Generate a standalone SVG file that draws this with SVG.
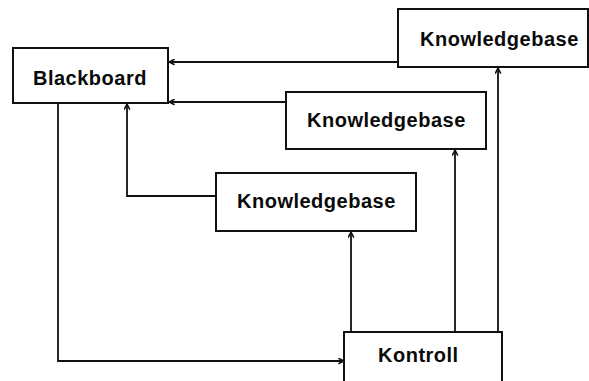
<svg xmlns="http://www.w3.org/2000/svg" width="589" height="381" viewBox="0 0 589 381">
  <style>
    .box { fill: #ffffff; stroke: #111111; stroke-width: 2; }
    .lbl { font-family: "Liberation Sans", Arial, sans-serif; font-weight: bold; font-size: 20px; fill: #0a0a0a; letter-spacing: 0.5px; }
    .conn { fill: none; stroke: #111111; stroke-width: 1.8; marker-end: url(#arrow); }
  </style>
  <defs>
    <marker id="arrow" viewBox="0 0 10 10" refX="9" refY="5" markerWidth="7" markerHeight="7" markerUnits="userSpaceOnUse" orient="auto">
      <path d="M1,1 L9,5 L1,9" fill="none" stroke="#111111" stroke-width="2.2"/>
    </marker>
  </defs>
  <rect width="589" height="381" fill="#ffffff"/>

  <g id="connectors">
    <path class="conn" d="M398,62 H169"/>
    <path class="conn" d="M286,102 H169"/>
    <path class="conn" d="M216,196 H127 V104"/>
    <path class="conn" d="M58,103 V361 H344"/>
    <path class="conn" d="M351,332 V232"/>
    <path class="conn" d="M455,332 V150"/>
    <path class="conn" d="M498,332 V68"/>
  </g>

  <g id="blackboard">
    <rect class="box" x="13" y="48" width="155" height="55"/>
    <text class="lbl" x="33" y="85">Blackboard</text>
  </g>
  <g id="knowledgebase-top">
    <rect class="box" x="398" y="9" width="190" height="58"/>
    <text class="lbl" x="420" y="46">Knowledgebase</text>
  </g>
  <g id="knowledgebase-middle">
    <rect class="box" x="286" y="92" width="200" height="57"/>
    <text class="lbl" x="307" y="127">Knowledgebase</text>
  </g>
  <g id="knowledgebase-bottom">
    <rect class="box" x="216" y="173" width="200" height="58"/>
    <text class="lbl" x="237" y="208">Knowledgebase</text>
  </g>
  <g id="kontroll">
    <rect class="box" x="344" y="332" width="158" height="55"/>
    <text class="lbl" x="378" y="362">Kontroll</text>
  </g>
</svg>
